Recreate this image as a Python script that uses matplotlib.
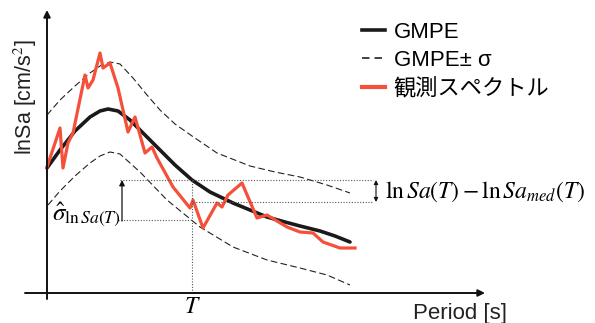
import numpy as np
import matplotlib.pyplot as plt
from matplotlib.lines import Line2D

plt.rcParams['font.family'] = ['Liberation Sans', 'Noto Sans CJK JP', 'DejaVu Sans']
plt.rcParams['mathtext.fontset'] = 'stix'

# --- schematic data (arbitrary units) ---
gmpe_x = [0.00, 0.13, 0.28, 0.43, 0.53, 0.61, 0.71, 0.83, 0.98, 1.13, 1.28,
          1.45, 1.63, 1.86, 2.03, 2.20, 2.38, 2.53, 2.73, 2.88, 3.03]
gmpe_y = [1.25, 1.43, 1.62, 1.76, 1.82, 1.84, 1.82, 1.73, 1.58, 1.43, 1.28,
          1.13, 1.01, 0.90, 0.83, 0.76, 0.71, 0.67, 0.62, 0.57, 0.51]

upper_x = [0.00, 0.13, 0.28, 0.43, 0.53, 0.63, 0.73, 0.86, 1.00, 1.13, 1.28,
           1.45, 1.70, 2.03, 2.28, 2.53, 2.80, 3.03]
upper_y = [1.78, 1.93, 2.07, 2.20, 2.27, 2.31, 2.29, 2.15, 1.98, 1.83, 1.69,
           1.57, 1.40, 1.27, 1.21, 1.16, 1.08, 1.00]

lower_x = [0.01, 0.13, 0.28, 0.43, 0.53, 0.63, 0.73, 0.93, 1.20, 1.53, 1.86,
           2.20, 2.53, 2.80, 3.03]
lower_y = [0.88, 1.02, 1.17, 1.30, 1.37, 1.41, 1.39, 1.21, 0.93, 0.66, 0.46,
           0.33, 0.25, 0.18, 0.08]

obs_x = [0.00, 0.13, 0.16, 0.21, 0.26, 0.38, 0.41, 0.46, 0.53, 0.56, 0.63,
         0.71, 0.81, 0.88, 0.98, 1.05, 1.10, 1.26, 1.43, 1.46, 1.56, 1.70,
         1.75, 1.81, 1.95, 2.10, 2.20, 2.40, 2.53, 2.66, 2.76, 2.93, 3.08]
obs_y = [1.26, 1.65, 1.25, 1.50, 1.60, 2.18, 2.05, 2.13, 2.40, 2.25, 2.30,
         2.05, 1.61, 1.76, 1.40, 1.46, 1.35, 1.06, 0.85, 0.93, 0.65, 0.90,
         0.86, 0.98, 1.10, 0.75, 0.78, 0.66, 0.61, 0.60, 0.51, 0.45, 0.45]

T_PERIOD = 1.45
MED_AT_T = 1.13
OBS_AT_T = 0.91
LOW_AT_T = 0.73

fig = plt.figure(figsize=(5.95, 3.23), dpi=100)
ax = fig.add_axes([0, 0, 1, 1])
ax.set_xlim(-0.47, 5.48)
ax.set_ylim(-0.30, 2.93)
ax.axis('off')

red = '#f4503a'
ax.plot(upper_x, upper_y, color='#222222', lw=0.8, ls=(0, (6, 3)))
ax.plot(lower_x, lower_y, color='#222222', lw=0.8, ls=(0, (6, 3)))
ax.plot(gmpe_x, gmpe_y, color='#1a1a1a', lw=2.6, solid_capstyle='round')
ax.plot(obs_x, obs_y, color=red, lw=2.3, solid_joinstyle='round')

# axes with arrows
ax.annotate('', xy=(0, 2.83), xytext=(0, -0.06),
            arrowprops=dict(arrowstyle='-|>', color='#111111', lw=1.4,
                            mutation_scale=10, shrinkA=0, shrinkB=0))
ax.annotate('', xy=(4.38, 0), xytext=(-0.22, 0),
            arrowprops=dict(arrowstyle='-|>', color='#111111', lw=1.4,
                            mutation_scale=10, shrinkA=0, shrinkB=0))

# dotted guide lines
dot = dict(color='#555555', lw=0.8, ls=(0, (1, 1.5)))
ax.plot([0.73, 3.26], [MED_AT_T, MED_AT_T], **dot)
ax.plot([T_PERIOD + 0.01, 3.26], [OBS_AT_T, OBS_AT_T], **dot)
ax.plot([0.71, T_PERIOD], [LOW_AT_T, LOW_AT_T], **dot)
ax.plot([T_PERIOD, T_PERIOD], [0, MED_AT_T], **dot)

ax.annotate('', xy=(0.75, MED_AT_T), xytext=(0.75, LOW_AT_T - 0.01),
            arrowprops=dict(arrowstyle='-|>', color='#111111', lw=0.9,
                            mutation_scale=8, shrinkA=0, shrinkB=0))
ax.annotate('', xy=(3.29, MED_AT_T), xytext=(3.29, OBS_AT_T),
            arrowprops=dict(arrowstyle='<|-|>', color='#111111', lw=0.8,
                            mutation_scale=6, shrinkA=0, shrinkB=0))

# texts
ax.text(-0.22, 1.96, 'lnSa [cm/s$^2$]', rotation=90, ha='center', va='center',
        fontsize=15.5, color='#222222')
ax.text(4.13, -0.20, 'Period [s]', ha='center', va='center', fontsize=16,
        color='#222222')
ax.text(T_PERIOD, -0.14, '$T$', ha='center', va='center', fontsize=17)
ax.text(0.05, 0.78, r'$\hat{\sigma}_{\ln Sa(T)}$', ha='left', va='center',
        fontsize=18)
ax.text(3.38, 1.01, r'$\ln Sa(T) - \ln Sa_{med}(T)$', ha='left', va='center',
        fontsize=17)

handles = [Line2D([], [], color='#1a1a1a', lw=2.6),
           Line2D([], [], color='#222222', lw=1.2, ls=(0, (4.5, 3))),
           Line2D([], [], color=red, lw=3)]
labels = ['GMPE', 'GMPE\u00b1 \u03c3', '観測スペクトル']
fig.legend(handles, labels, loc='upper left', bbox_to_anchor=(362 / 595, 1 - 22 / 323),
           frameon=False, fontsize=16, handlelength=1.03, handletextpad=0.4,
           labelspacing=0.32, borderpad=0, borderaxespad=0)

fig.savefig('out.png', dpi=100)
